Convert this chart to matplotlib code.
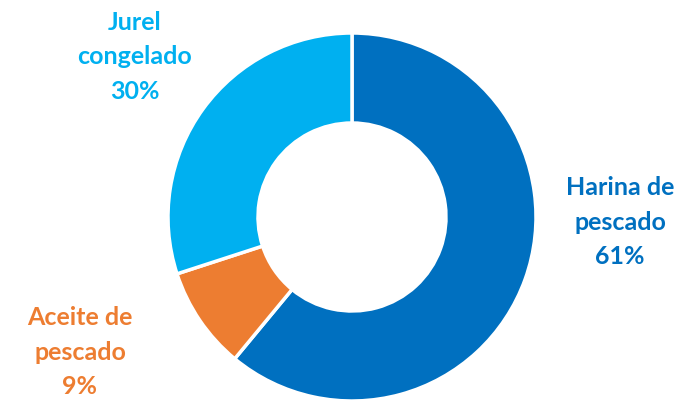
import matplotlib
matplotlib.use("Agg")
import matplotlib.pyplot as plt

categories = ["Harina de\npescado", "Aceite de\npescado", "Jurel\ncongelado"]
shares = [61, 9, 30]
colors = ["#0070C0", "#ED7D31", "#00B0F0"]

W, H = 685, 401
fig = plt.figure(figsize=(W / 100, H / 100), dpi=100)
ax = fig.add_axes([0, 0, 1, 1])

ax.pie(shares, colors=colors, startangle=90, counterclock=False,
       center=(352, H - 217), radius=184,
       wedgeprops=dict(width=90, edgecolor="white", linewidth=2.5),
       frame=True)
ax.set_xlim(0, W)
ax.set_ylim(0, H)
ax.set_aspect("equal")
ax.axis("off")

# label positions (pixels, from top-left)
label_pos = [(620, 222), (80, 352), (135, 57)]
for cat, val, col, (x, y) in zip(categories, shares, colors, label_pos):
    ax.text(x, H - y, "%s\n%d%%" % (cat, val), color=col, fontsize=18,
            fontweight="bold", family="Lato", ha="center",
            va="center", linespacing=1.6)

fig.savefig("out.png", dpi=100)
